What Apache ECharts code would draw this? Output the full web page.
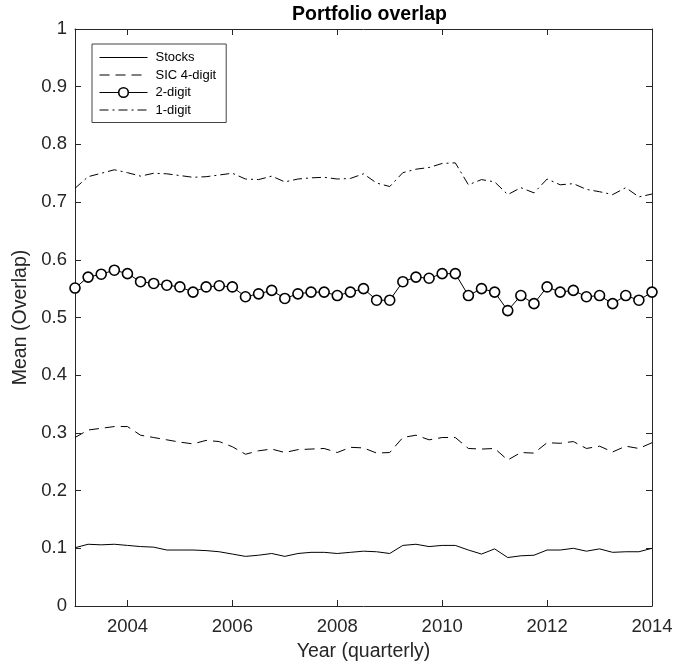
<!DOCTYPE html>
<html>
<head>
<meta charset="utf-8">
<script src="https://cdn.jsdelivr.net/npm/echarts@6/dist/echarts.min.js"></script>
<style>
html,body{margin:0;padding:0;background:#fff;}
#chart{width:677px;height:667px;}
</style>
</head>
<body>
<div id="chart"></div>
<script>
const quarters = [2003,2003.25,2003.5,2003.75,2004,2004.25,2004.5,2004.75,2005,2005.25,2005.5,2005.75,
  2006,2006.25,2006.5,2006.75,2007,2007.25,2007.5,2007.75,2008,2008.25,2008.5,2008.75,
  2009,2009.25,2009.5,2009.75,2010,2010.25,2010.5,2010.75,2011,2011.25,2011.5,2011.75,
  2012,2012.25,2012.5,2012.75,2013,2013.25,2013.5,2013.75,2014];
const stocks = [0.101,0.107,0.106,0.107,0.105,0.103,0.102,0.097,0.097,0.097,0.096,0.094,0.090,0.086,0.088,0.091,0.086,0.091,0.093,0.093,0.091,0.093,0.095,
  0.094,0.091,0.105,0.107,0.103,0.105,0.105,0.097,0.090,0.099,0.084,0.087,0.088,0.097,0.097,0.100,0.095,0.099,0.093,0.094,0.094,0.100];
const sic4 = [0.292,0.305,0.308,0.311,0.311,0.296,0.292,0.288,0.284,0.281,0.287,0.285,0.276,0.263,0.269,0.272,0.266,0.271,0.272,0.273,0.266,0.275,0.274,
  0.265,0.266,0.292,0.296,0.288,0.292,0.292,0.273,0.272,0.273,0.253,0.266,0.265,0.283,0.282,0.285,0.273,0.277,0.267,0.277,0.273,0.283];
const digit2 = [0.551,0.570,0.575,0.582,0.576,0.562,0.559,0.556,0.553,0.544,0.553,0.555,0.553,0.536,0.541,0.547,0.533,0.541,0.544,0.544,0.538,0.544,0.550,
  0.530,0.530,0.562,0.570,0.568,0.576,0.576,0.538,0.550,0.544,0.512,0.538,0.524,0.553,0.544,0.547,0.536,0.538,0.524,0.538,0.530,0.544];
const digit1 = [0.724,0.744,0.750,0.756,0.751,0.745,0.750,0.749,0.746,0.743,0.744,0.747,0.750,0.740,0.739,0.745,0.735,0.740,0.742,0.743,0.740,0.741,0.749,
  0.733,0.727,0.751,0.757,0.760,0.767,0.768,0.730,0.739,0.735,0.713,0.725,0.716,0.740,0.730,0.732,0.722,0.718,0.713,0.725,0.709,0.714];
const xTicks = [2004,2006,2008,2010,2012,2014];
const seriesNames = ['Stocks','SIC 4-digit','2-digit','1-digit'];

const pair = arr => quarters.map((q,i)=>[q,arr[i]]);
const axisColor = '#262626';
const font = 'Liberation Sans, Arial, Helvetica, sans-serif';
const hiddenSym = {color:'rgba(0,0,0,0)', borderWidth:0, opacity:0};

const chart = echarts.init(document.getElementById('chart'), null, {renderer:'canvas'});
const baseX = {
  type:'value', min:2003, max:2014,
  axisLine:{show:true, onZero:false, lineStyle:{color:axisColor, width:1}},
  axisTick:{show:true, inside:true, length:6, customValues:xTicks, lineStyle:{color:axisColor}},
  splitLine:{show:false}
};
const baseY = {
  type:'value', min:0, max:1, interval:0.1,
  axisLine:{show:true, onZero:false, lineStyle:{color:axisColor, width:1}},
  axisTick:{show:true, inside:true, length:6, lineStyle:{color:axisColor}},
  splitLine:{show:false}
};
const option = {
  backgroundColor:'#fff',
  animation:false,
  title:{
    text:'Portfolio overlap', left:287, top:0,
    textStyle:{fontFamily:font, fontWeight:'bold', fontSize:19.5, color:'#000'}
  },
  grid:{left:75, right:25, top:29, bottom:61, containLabel:false},
  legend:{
    data:[
      {name:seriesNames[0], itemStyle:hiddenSym},
      {name:seriesNames[1], itemStyle:hiddenSym},
      {name:seriesNames[2], itemStyle:{color:'#fff', borderColor:'#000', borderWidth:1.6}},
      {name:seriesNames[3], itemStyle:hiddenSym}
    ],
    orient:'vertical', left:92, top:44,
    itemWidth:48, itemHeight:12, itemGap:4.5,
    padding:[7,10,6,7],
    borderColor:'#444', borderWidth:1, backgroundColor:'#fff',
    lineStyle:{width:1},
    textStyle:{fontFamily:font, fontSize:13, lineHeight:13, color:'#000', padding:[0,0,0,3]}
  },
  xAxis:[
    Object.assign({}, baseX, {
      position:'bottom',
      name:'Year (quarterly)', nameLocation:'middle', nameGap:36,
      nameTextStyle:{fontFamily:font, fontSize:19.5, color:axisColor},
      axisLabel:{show:true, customValues:xTicks, margin:11, fontFamily:font, fontSize:18.5, color:axisColor,
        formatter: v => String(v)}
    }),
    Object.assign({}, baseX, {position:'top', axisLabel:{show:false}})
  ],
  yAxis:[
    Object.assign({}, baseY, {
      position:'left',
      name:'Mean (Overlap)', nameLocation:'middle', nameGap:41,
      nameTextStyle:{fontFamily:font, fontSize:19.5, color:axisColor},
      axisLabel:{show:true, margin:8, fontFamily:font, fontSize:18.5, color:axisColor}
    }),
    Object.assign({}, baseY, {position:'right', axisLabel:{show:false}})
  ],
  series:[
    {name:'Stocks', type:'line', data:pair(stocks), showSymbol:false, symbol:'none',
     lineStyle:{color:'#000', width:1, type:'solid'}, itemStyle:{color:'#000'}},
    {name:'SIC 4-digit', type:'line', data:pair(sic4), showSymbol:false, symbol:'none',
     lineStyle:{color:'#000', width:1, type:[10,6]}, itemStyle:{color:'#000'}},
    {name:'2-digit', type:'line', data:pair(digit2), symbol:'circle', symbolSize:10, showSymbol:true,
     lineStyle:{color:'#000', width:1, type:'solid'},
     itemStyle:{color:'#fff', borderColor:'#000', borderWidth:1.6}},
    {name:'1-digit', type:'line', data:pair(digit1), showSymbol:false, symbol:'none',
     lineStyle:{color:'#000', width:1, type:[9,4,2,4]}, itemStyle:{color:'#000'}}
  ]
};
chart.setOption(option);
</script>
</body>
</html>
